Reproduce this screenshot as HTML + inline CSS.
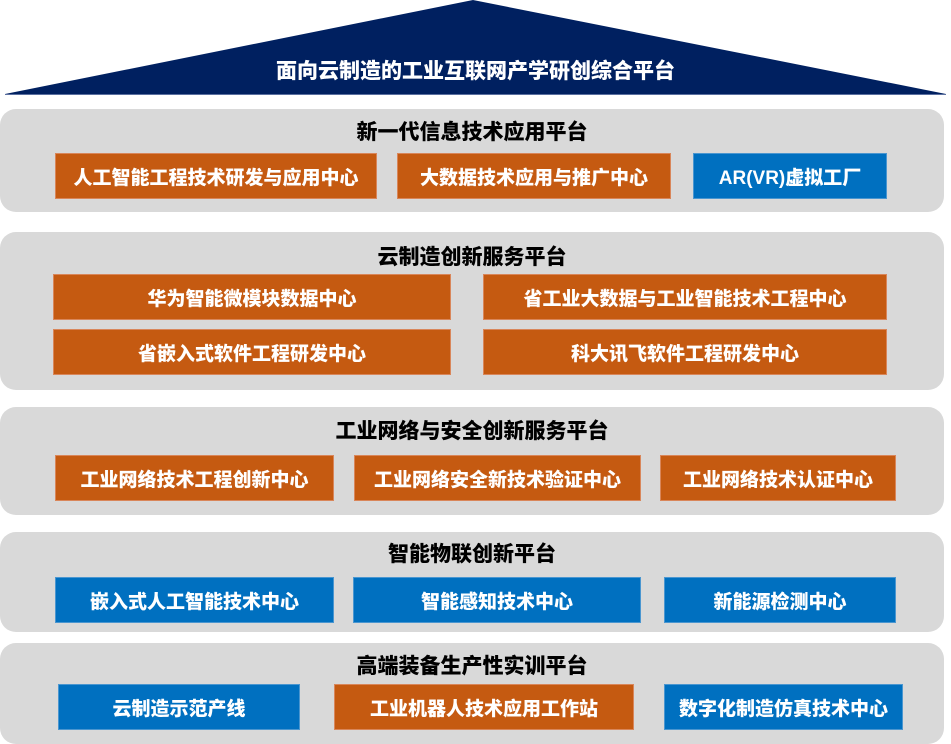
<!DOCTYPE html>
<html><head><meta charset="utf-8"><style>
body{margin:0;width:951px;height:744px;background:#fff;position:relative;overflow:hidden;font-family:"Liberation Sans","Noto Sans CJK SC",sans-serif;font-weight:bold}
.p{position:absolute;left:0;width:944px;background:#d9d9d9;border-radius:16px}
.t{position:absolute;left:0;width:944px;text-align:center;font-size:21px;color:#000;line-height:26px;font-weight:900}
.b{position:absolute;color:#fff;font-size:19px;display:flex;align-items:center;justify-content:center;box-sizing:border-box;font-weight:900}
.o{background:#c55a11;border:1px solid #d9865a}
.u{background:#0070c0;border:1px solid #4a96d0}
</style></head><body>
<svg style="position:absolute;left:0;top:0" width="951" height="100"><polygon points="5,94 473,0 946,94" fill="#002060"/><line x1="5" y1="94.5" x2="946" y2="94.5" stroke="#5a6fa0" stroke-width="1"/></svg>
<div style="position:absolute;left:0;width:951px;top:58px;text-align:center;color:#fff;font-size:21px;line-height:28px;font-weight:900">面向云制造的工业互联网产学研创综合平台</div>

<div class="p" style="top:109px;height:103px"></div>
<div class="t" style="top:120px">新一代信息技术应用平台</div>
<div class="b o" style="left:55px;top:153px;width:322px;height:46px">人工智能工程技术研发与应用中心</div>
<div class="b o" style="left:397px;top:153px;width:274px;height:46px">大数据技术应用与推广中心</div>
<div class="b u" style="left:693px;top:153px;width:194px;height:46px">AR(VR)虚拟工厂</div>

<div class="p" style="top:232px;height:158px"></div>
<div class="t" style="top:245px">云制造创新服务平台</div>
<div class="b o" style="left:53px;top:274px;width:398px;height:46px">华为智能微模块数据中心</div>
<div class="b o" style="left:483px;top:274px;width:404px;height:46px">省工业大数据与工业智能技术工程中心</div>
<div class="b o" style="left:53px;top:329px;width:398px;height:46px">省嵌入式软件工程研发中心</div>
<div class="b o" style="left:483px;top:329px;width:404px;height:46px">科大讯飞软件工程研发中心</div>

<div class="p" style="top:407px;height:108px"></div>
<div class="t" style="top:419px">工业网络与安全创新服务平台</div>
<div class="b o" style="left:55px;top:455px;width:279px;height:46px">工业网络技术工程创新中心</div>
<div class="b o" style="left:354px;top:455px;width:287px;height:46px">工业网络安全新技术验证中心</div>
<div class="b o" style="left:660px;top:455px;width:236px;height:46px">工业网络技术认证中心</div>

<div class="p" style="top:532px;height:100px"></div>
<div class="t" style="top:542px">智能物联创新平台</div>
<div class="b u" style="left:55px;top:577px;width:279px;height:46px">嵌入式人工智能技术中心</div>
<div class="b u" style="left:353px;top:577px;width:288px;height:46px">智能感知技术中心</div>
<div class="b u" style="left:664px;top:577px;width:232px;height:46px">新能源检测中心</div>

<div class="p" style="top:643px;height:101px"></div>
<div class="t" style="top:654px">高端装备生产性实训平台</div>
<div class="b u" style="left:58px;top:684px;width:242px;height:46px">云制造示范产线</div>
<div class="b o" style="left:334px;top:684px;width:300px;height:46px">工业机器人技术应用工作站</div>
<div class="b u" style="left:664px;top:684px;width:239px;height:46px">数字化制造仿真技术中心</div>
</body></html>
